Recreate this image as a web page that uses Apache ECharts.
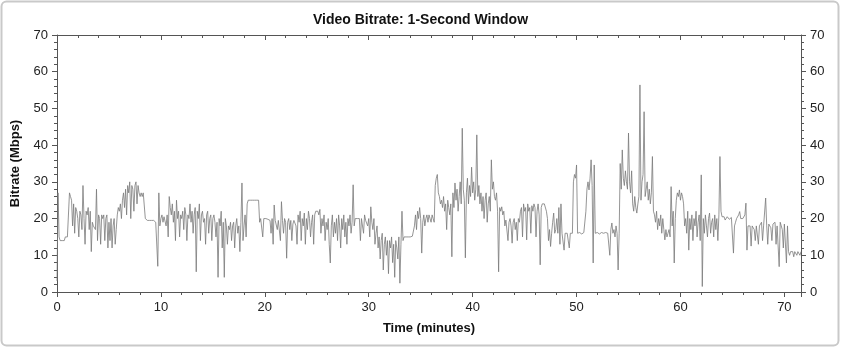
<!DOCTYPE html>
<html>
<head>
<meta charset="utf-8">
<script src="https://cdn.jsdelivr.net/npm/echarts@6/dist/echarts.min.js"></script>
<style>
html,body{margin:0;padding:0;background:#fff;}
#chart{width:841px;height:348px;}
</style>
</head>
<body>
<div id="chart"></div>
<script>
// Chart text
const titleText = 'Video Bitrate: 1-Second Window';
const xAxisName = 'Time (minutes)';
const yAxisName = 'Bitrate (Mbps)';

// Axis ranges / ticks
const xMin = 0, xMax = 71.6, xInterval = 10;
const yMin = 0, yMax = 70, yInterval = 10;

// Sampling step of the bitrate readings (minutes)
const stepMinutes = 0.1;

// Bitrate readings (Mbps), one row per minute
const bitrate = [
  3, 27, 15, 14, 14.5, 14, 14.5, 14, 15, 14.5,
  15, 15.5, 27, 26, 25, 18, 24, 16, 23, 22,
  20, 15, 22, 21, 17, 29, 20, 13, 22, 21,
  23, 17, 22, 11, 19, 18, 18, 17, 28, 14,
  21, 20, 13, 21, 20, 21, 14, 20, 21, 12,
  19, 14, 20, 12, 18, 20, 13, 17, 21, 23,
  22, 24, 20, 25, 27, 23, 28, 21, 29, 27,
  30, 20, 29, 28, 22, 29, 30, 24, 29, 27,
  26, 27, 26, 27, 26.5, 20, 19.5, 19.5, 20, 19.5,
  19.5, 19.5, 20, 19.5, 19.5, 19, 19.5, 7, 27, 18,
  20, 21, 19, 20.5, 21, 18, 21, 15, 26, 23,
  21, 24, 19, 22, 14, 25, 20, 22, 15, 21,
  20, 22, 17, 23, 21, 14, 21, 20, 24, 19,
  22, 16, 21, 23, 5.5, 22, 20, 24, 14, 21,
  22, 19, 20, 13, 21, 22, 16, 20, 21, 14,
  20, 21, 19, 15, 19, 4, 20, 18, 22, 12,
  19, 4, 20, 18, 13, 18, 17, 19, 14, 18,
  19, 12, 18, 20, 16, 18, 11, 19, 29.7, 14,
  18, 21, 15, 24, 25, 24.5, 25, 24.5, 25, 24.6,
  25, 24.5, 25, 24.6, 25, 19, 20, 20.5, 15, 20,
  19.5, 20, 19.5, 19.8, 20, 19.5, 16, 20, 13, 23.7,
  19.5, 20, 17, 19.5, 20, 14, 24.6, 19.5, 16, 20,
  19, 9.2, 19, 20, 17, 19.5, 14, 18.5, 19.5, 20,
  18, 13, 21, 19, 22, 14, 20, 18, 21.5, 13,
  20, 17, 22, 20, 15, 19, 21, 13, 21, 22,
  22.3, 22, 21, 22.5, 16, 20, 18, 21, 14, 19,
  17, 20, 13, 7.9, 18, 21, 15, 19, 16, 20,
  14, 21, 18, 12, 20, 17, 21, 15, 19, 13,
  20, 18, 21, 16, 19, 29.2, 18, 20, 19.5, 20,
  19.5, 20, 14, 20, 19.5, 16, 21, 19.5, 20, 18,
  20, 15, 23.2, 19, 17, 20, 13, 16, 18, 12,
  15, 9, 14, 16, 6, 13, 15, 10, 14, 5,
  14, 12, 15, 8, 13, 4, 14, 12, 9, 15,
  2.4, 13, 22, 14, 15, 14.5, 15, 14.5, 15, 14.8,
  15, 14.5, 15.2, 15, 18, 21, 17, 22, 20, 23,
  20, 10.6, 19, 21, 18, 20, 21, 19, 21, 20,
  19, 21, 20, 19, 29, 31, 32, 27, 26, 24,
  25, 23, 26, 22, 24, 17, 25, 23, 21, 24,
  9.6, 27, 23, 29.7, 25, 28, 22, 26, 30, 24,
  44.6, 28, 25, 9.3, 27, 31, 24, 29, 26, 34,
  27, 30, 25, 28, 42.8, 26, 29, 24, 27, 22,
  26, 20, 25, 27, 19, 24, 26, 22, 36, 28,
  30, 26, 25, 27, 22, 5.5, 23, 22, 23.2, 21,
  22, 18, 19.6, 20, 14, 19, 20, 18, 13.3, 19,
  20, 17, 19, 14, 20, 19, 22, 23, 15, 24,
  22, 23, 14.2, 24, 22, 23, 16, 23.5, 22, 24,
  23, 15, 22, 24, 21, 7.4, 23, 24, 23.7, 24,
  23.5, 22, 20, 14, 17, 12.4, 16, 19, 21.5, 16,
  17, 20, 16, 23, 13, 24, 16, 15.5, 11.4, 16,
  16.3, 16, 15.5, 12, 16, 16.3, 16, 30, 32, 31,
  34.6, 16, 16, 16.2, 16, 15.8, 16, 16.2, 16, 22,
  28, 30, 27.8, 31, 36, 29, 7.9, 34.6, 16, 16,
  16.2, 16, 15.8, 16, 16.2, 16, 16, 15.8, 16.2, 16,
  16, 16.2, 10, 17, 18.8, 16, 17, 15, 18, 16,
  6, 16, 35, 28, 38.7, 31, 29, 33, 30, 28,
  43.3, 30, 27, 33, 24, 22, 26, 23, 21.5, 24,
  26, 56.4, 25, 30, 32, 49.1, 26, 28, 30, 25,
  28, 24, 27, 36.9, 22, 21, 19, 22, 17, 20,
  18, 21, 16, 20, 17, 14.2, 17, 15, 16, 17,
  15, 28.7, 18, 22, 7.9, 20, 25, 27, 26, 27.8,
  25, 27, 26, 24, 18, 20, 16, 22, 11.4, 20,
  17, 21, 14, 20, 18, 22, 15, 19, 21, 14,
  31.9, 1.5, 20, 16, 21, 18, 15, 20, 21.5, 16,
  19, 20, 15, 21, 17, 20, 14, 21, 36.9, 22,
  20.5, 20, 20.5, 19.6, 20, 20.5, 20, 19.8, 20, 20.3,
  20, 10.6, 18, 19, 20, 19.5, 21, 21.9, 20, 19.5,
  20, 19.5, 21, 24.2, 11.4, 18, 17.5, 18, 12.5, 18,
  18.5, 17, 14, 18, 18.5, 13, 18, 17.5, 19, 14,
  18, 18.5, 25.6, 18, 13, 18.5, 18, 17.5, 14, 18.5,
  18, 19, 13, 18, 18.5, 6.9, 19, 18, 17, 12,
  18.5, 19, 7.9, 18, 11, 10, 11, 10.5, 11, 9.6,
  11, 10.5, 10, 11, 10.5, 10, 11
];

const seriesData = bitrate.map((v, i) => [+(i * stepMinutes).toFixed(2), v]);

const fontFam = "'Liberation Sans', Arial, sans-serif";
const axisColor = '#555';
const labelStyle = { color: '#222', fontSize: 13, fontFamily: fontFam };

const chart = echarts.init(document.getElementById('chart'), null, { renderer: 'canvas' });
chart.setOption({
  animation: false,
  backgroundColor: '#fff',
  graphic: [{
    type: 'rect',
    shape: { x: 1.5, y: 1.5, width: 837, height: 344, r: 5 },
    style: { fill: 'none', stroke: '#c9c9c9', lineWidth: 2 },
    silent: true, z: -1
  }],
  title: {
    text: titleText, left: 'center', top: 8,
    textStyle: { fontSize: 14, fontWeight: 'bold', color: '#111', fontFamily: fontFam }
  },
  grid: { left: 57, right: 40, top: 35, bottom: 56, containLabel: false },
  xAxis: [{
    type: 'value', min: xMin, max: xMax, interval: xInterval,
    name: xAxisName, nameLocation: 'middle', nameGap: 30,
    nameTextStyle: { fontSize: 13, fontWeight: 'bold', color: '#111', fontFamily: fontFam },
    axisLine: { show: true, onZero: false, lineStyle: { color: axisColor, width: 1 } },
    axisTick: { show: true, length: 5, inside: false, lineStyle: { color: axisColor } },
    minorTick: { show: true, splitNumber: 5, length: 3, lineStyle: { color: axisColor } },
    axisLabel: Object.assign({ margin: 9, showMaxLabel: false }, labelStyle),
    splitLine: { show: false }
  }, {
    type: 'value', position: 'top', min: xMin, max: xMax, interval: xInterval,
    axisLine: { show: true, onZero: false, lineStyle: { color: axisColor, width: 1 } },
    axisTick: { show: true, inside: true, length: 5, lineStyle: { color: axisColor } },
    minorTick: { show: true, splitNumber: 5, length: 3, lineStyle: { color: axisColor } },
    axisLabel: { show: false },
    splitLine: { show: false }
  }],
  yAxis: [{
    type: 'value', min: yMin, max: yMax, interval: yInterval,
    name: yAxisName, nameLocation: 'middle', nameGap: 35,
    nameTextStyle: { fontSize: 13, fontWeight: 'bold', color: '#111', fontFamily: fontFam },
    axisLine: { show: true, onZero: false, lineStyle: { color: axisColor, width: 1 } },
    axisTick: { show: true, length: 5, lineStyle: { color: axisColor } },
    minorTick: { show: true, splitNumber: 5, length: 3, lineStyle: { color: axisColor } },
    axisLabel: Object.assign({ margin: 9 }, labelStyle),
    splitLine: { show: false }
  }, {
    type: 'value', position: 'right', min: yMin, max: yMax, interval: yInterval,
    axisLine: { show: true, onZero: false, lineStyle: { color: axisColor, width: 1 } },
    axisTick: { show: true, length: 5, lineStyle: { color: axisColor } },
    minorTick: { show: true, splitNumber: 5, length: 3, lineStyle: { color: axisColor } },
    axisLabel: Object.assign({ margin: 9 }, labelStyle),
    splitLine: { show: false }
  }],
  series: [{
    type: 'line',
    data: seriesData,
    xAxisIndex: 0, yAxisIndex: 0,
    showSymbol: false, symbol: 'none',
    lineStyle: { color: '#7a7a7a', width: 0.8 },
    silent: true
  }]
});
</script>
</body>
</html>
